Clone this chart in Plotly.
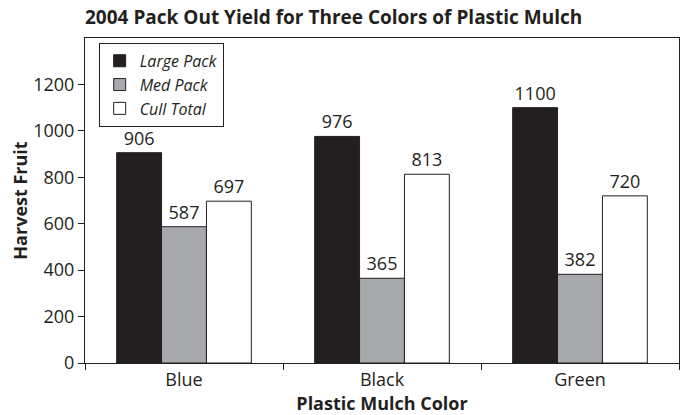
import plotly.graph_objects as go

categories = ["Blue", "Black", "Green"]
large_pack = [906, 976, 1100]
med_pack = [587, 365, 382]
cull_total = [697, 813, 720]
series_names = ["Large Pack", "Med Pack", "Cull Total"]
y_ticks = [0, 200, 400, 600, 800, 1000, 1200]

FONT = "Open Sans"
colors = ["#231f20", "#a7a9ac", "#ffffff"]

fig = go.Figure()
for name, vals, col in zip(series_names, [large_pack, med_pack, cull_total], colors):
    fig.add_trace(go.Bar(
        x=categories, y=vals, name=name,
        marker=dict(color=col, line=dict(color="#231f20", width=1)),
        text=vals, textposition="outside", cliponaxis=False,
        textfont=dict(family=FONT, size=18, color="#231f20"),
    ))

fig.update_layout(
    width=681, height=415,
    margin=dict(l=85, r=2, t=38, b=52),
    paper_bgcolor="white", plot_bgcolor="white",
    barmode="group", bargap=0.32, bargroupgap=0,
    font=dict(family=FONT, size=18, color="#231f20"),
    title=dict(text="<b>2004 Pack Out Yield for Three Colors of Plastic Mulch</b>",
               x=0, xref="paper", xanchor="left", y=0.957, yanchor="middle",
               font=dict(family=FONT, size=19, color="#231f20")),
    legend=dict(x=0.023, y=0.985, xanchor="left", yanchor="top",
                bordercolor="#231f20", borderwidth=1, bgcolor="white",
                font=dict(family=FONT, size=16, style="italic", color="#231f20"),
                tracegroupgap=0, itemwidth=30),
)
fig.update_xaxes(
    type="category", tickson="boundaries", ticks="outside", ticklen=6,
    tickcolor="#231f20", showline=True, linecolor="#231f20", linewidth=1,
    mirror=True, showgrid=False,
    title=dict(text="<b>Plastic Mulch Color</b>", standoff=0,
               font=dict(family=FONT, size=18)),
    tickfont=dict(family=FONT, size=18),
)
fig.update_yaxes(
    range=[0, 1400], tickmode="array", tickvals=y_ticks,
    ticks="outside", ticklen=6, tickcolor="#231f20",
    showline=True, linecolor="#231f20", linewidth=1, mirror=True,
    showgrid=False, zeroline=False,
    title=dict(text="<b>Harvest Fruit</b>", standoff=0,
               font=dict(family=FONT, size=18)),
    tickfont=dict(family=FONT, size=18),
)

fig.write_html("out.html")
